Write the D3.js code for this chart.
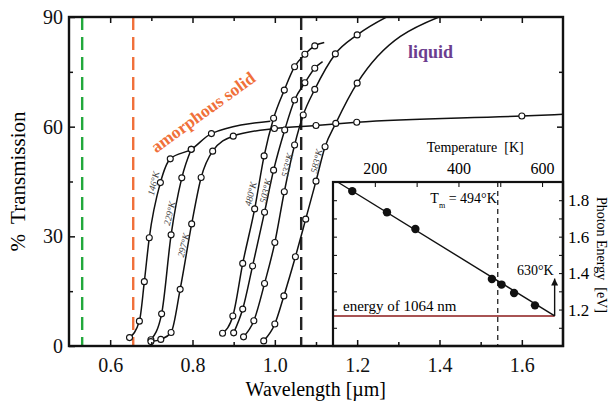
<!DOCTYPE html>
<html>
<head>
<meta charset="utf-8">
<script src="https://cdn.jsdelivr.net/npm/d3@7"></script>
<style>
body{margin:0;background:#fff}
svg{display:block}
svg text{font-family:"Liberation Serif","DejaVu Serif","Times New Roman",serif !important}
</style>
</head>
<body>
<div id="chart"></div>
<script>
// transmission curves: [wavelength (um), % transmission, open circle drawn?]
var t146 = [[0.647,2.3,1],[0.671,6.8,1],[0.683,17.6,1],[0.695,29.6,1],[0.722,44.7,1],[0.746,51.2,1],[0.797,53.8,1],[0.846,58.1,1],[0.989,61.5,0]];
var t229 = [[0.699,1.7,1],[0.725,8.8,1],[0.748,30.4,1],[0.774,46.0,1],[0.797,53.8,1]];
var t297 = [[0.699,1.2,1],[0.723,1.8,1],[0.748,3.7,1],[0.770,15.5,1],[0.798,33.4,1],[0.821,46.1,1],[0.849,53.3,1],[0.899,57.4,1],[0.999,59.5,1],[1.100,60.3,1],[1.199,61.2,1],[1.600,62.9,1],[1.700,63.4,0]];
var t480 = [[0.873,3.5,1],[0.898,8.2,1],[0.922,22.6,1],[0.951,37.5,1],[0.974,52.0,1],[0.997,62.3,1],[1.023,70.0,1],[1.048,76.4,1],[1.073,79.8,1],[1.097,82.1,1],[1.120,83.0,0]];
var t503 = [[0.900,3.6,1],[0.922,10.1,1],[0.946,21.9,1],[0.975,36.6,1],[0.997,48.1,1],[1.024,59.1,1],[1.048,67.3,1],[1.073,72.0,1],[1.097,76.0,1],[1.116,77.8,0]];
var t533 = [[0.924,2.5,1],[0.949,6.9,1],[0.975,17.1,1],[1.000,28.3,1],[1.023,42.2,1],[1.048,55.0,1],[1.069,63.2,1],[1.097,70.2,1],[1.147,79.9,1],[1.200,85.1,1],[1.280,90.5,0]];
var t583 = [[0.973,1.4,1],[1.000,6.0,1],[1.022,13.7,1],[1.050,24.4,1],[1.075,34.7,1],[1.100,45.1,1],[1.122,54.5,1],[1.148,60.9,1],[1.200,71.9,1],[1.410,90.5,0]];

var curves = [t146,t229,t297,t480,t503,t533,t583];
var curveNames = ["146°K","229°K","297°K","480°K","503°K","533°K","583°K"];
var curveLabelAt = [[0.705,44.5],[0.744,36.3],[0.778,27.6],[0.941,41.6],[0.977,42.4],[1.030,49.5],[1.101,50.6]];

// vertical laser lines (um)
var laserLines = [0.532,0.656,1.064];
var laserColors = ["#22a83c","#f0703a","#222"];

// inset: photon energy of the edge vs. temperature
var insetTemp = [146,229,297,480,503,533,583];
var insetEnergy = [1.850,1.734,1.642,1.368,1.337,1.291,1.223];
var fitTemp = [111,630];
var fitEnergy = [1.9,1.165];
var laserEnergy = 1.165;
var meltTemp = 494;
var cutTemp = 630;
var cutArrowTop = 1.37;

var SERIF = "'Liberation Serif','DejaVu Serif',serif";
var W = 611, H = 401;
var margin = {top:17,right:48,bottom:55,left:69};
var w = W - margin.left - margin.right, h = H - margin.top - margin.bottom;

var svg = d3.select("#chart").append("svg").attr("width",W).attr("height",H).attr("font-family",SERIF);
var g = svg.append("g").attr("transform","translate(" + margin.left + "," + margin.top + ")");

var x = d3.scaleLinear().domain([0.5,1.7]).range([0,w]);
var y = d3.scaleLinear().domain([0,90]).range([h,0]);

g.append("clipPath").attr("id","clip").append("rect").attr("width",w).attr("height",h);

// dashed lines
laserLines.forEach(function(v,i){
  g.append("line")
    .attr("x1",x(v)).attr("x2",x(v)).attr("y1",0).attr("y2",h)
    .attr("stroke",laserColors[i]).attr("stroke-width",2.4)
    .attr("stroke-dasharray","13,7");
});

var line = d3.line()
  .x(function(d){return x(d[0]);})
  .y(function(d){return y(d[1]);})
  .curve(d3.curveMonotoneX);

var cg = g.append("g").attr("clip-path","url(#clip)");
curves.forEach(function(c){
  cg.append("path").attr("d",line(c)).attr("fill","none").attr("stroke","#111").attr("stroke-width",1.5);
});
curves.forEach(function(c){
  cg.selectAll(null).data(c.filter(function(d){return d[2];}))
    .enter().append("circle")
    .attr("cx",function(d){return x(d[0]);})
    .attr("cy",function(d){return y(d[1]);})
    .attr("r",3)
    .attr("fill","#fff").attr("stroke","#111").attr("stroke-width",1.1);
});

// curve temperature labels
curveNames.forEach(function(n,i){
  var p = curveLabelAt[i];
  g.append("text")
    .attr("transform","translate(" + x(p[0]) + "," + y(p[1]) + ") rotate(-76)")
    .attr("text-anchor","middle").attr("dy","0.35em")
    .style("font-size","9.5px").style("font-style","italic").attr("fill","#444")
    .text(n);
});

g.append("text")
  .attr("transform","translate(" + x(0.825) + "," + y(64) + ") rotate(-36)")
  .attr("text-anchor","middle").attr("dy","0.35em")
  .style("font-size","17.5px").style("font-weight","bold").attr("fill","#f0703a")
  .text("amorphous solid");

g.append("text")
  .attr("x",x(1.378)).attr("y",y(78.8))
  .attr("text-anchor","middle")
  .style("font-size","18px").style("font-weight","bold").attr("fill","#6b3d8f")
  .text("liquid");

// ---- inset ----
var ix0 = 264, iy0 = 165;
var tx = d3.scaleLinear().domain([100,650]).range([ix0,w]);
var ey = d3.scaleLinear().domain([1.0,1.9]).range([h,iy0]);

var ins = g.append("g");
ins.append("rect").attr("x",ix0).attr("y",iy0).attr("width",w-ix0).attr("height",h-iy0).attr("fill","#fff");

ins.append("line")
  .attr("x1",tx(100)).attr("x2",tx(cutTemp)).attr("y1",ey(laserEnergy)).attr("y2",ey(laserEnergy))
  .attr("stroke","#8b1a1a").attr("stroke-width",1.6);

ins.append("line")
  .attr("x1",tx(meltTemp)).attr("x2",tx(meltTemp)).attr("y1",iy0).attr("y2",h)
  .attr("stroke","#111").attr("stroke-width",1.2).attr("stroke-dasharray","5,4");

var fitLine = d3.line().x(function(d){return tx(d[0]);}).y(function(d){return ey(d[1]);});
ins.append("path").attr("d",fitLine(fitTemp.map(function(t,i){return [t,fitEnergy[i]];})))
  .attr("stroke","#111").attr("stroke-width",1.4).attr("fill","none");

ins.selectAll(null).data(insetTemp).enter().append("circle")
  .attr("cx",function(d){return tx(d);})
  .attr("cy",function(d,i){return ey(insetEnergy[i]);})
  .attr("r",4.2).attr("fill","#111");

svg.append("defs").append("marker").attr("id","arr")
  .attr("viewBox","0 0 10 10").attr("refX",10).attr("refY",5)
  .attr("markerWidth",12).attr("markerHeight",7).attr("markerUnits","userSpaceOnUse")
  .attr("orient","auto")
  .append("path").attr("d","M0,0L10,5L0,10z").attr("fill","#111");
ins.append("line")
  .attr("x1",tx(cutTemp)).attr("x2",tx(cutTemp)).attr("y1",ey(laserEnergy)).attr("y2",ey(cutArrowTop))
  .attr("stroke","#111").attr("stroke-width",1.4).attr("marker-end","url(#arr)");

ins.append("text").attr("x",tx(cutTemp)-1).attr("y",ey(1.39))
  .attr("text-anchor","end").style("font-size","14px").text("630°K");

var tm = ins.append("text").attr("x",tx(meltTemp)-1).attr("y",ey(1.785))
  .attr("text-anchor","end").style("font-size","14px");
tm.append("tspan").text("T");
tm.append("tspan").attr("dy",5).style("font-size","8px").text("m");
tm.append("tspan").attr("dy",-5).text(" = 494°K");

ins.append("text").attr("x",tx(100)+10).attr("y",ey(1.19))
  .style("font-size","15px").text("energy of 1064 nm");

// inset axes
ins.append("g").attr("transform","translate(0," + iy0 + ")")
  .call(d3.axisTop(tx).tickValues([200,300,400,500,600]).tickSize(-5).tickFormat(function(d){return d%200===0 ? d : "";}).tickPadding(8))
  .call(function(a){a.select(".domain").remove();a.attr("font-family",null);a.selectAll("text").style("font-size","16px");});
ins.append("text").attr("x",tx(440)).attr("y",iy0-30).attr("text-anchor","middle")
  .style("font-size","14px").attr("xml:space","preserve").text("Temperature  [K]");

ins.append("g").attr("transform","translate(" + ix0 + ",0)")
  .call(d3.axisLeft(ey).tickValues(d3.range(1.1,1.85,0.1)).tickSize(-4).tickFormat(""))
  .call(function(a){a.select(".domain").remove();});
ins.append("g").attr("transform","translate(" + w + ",0)")
  .call(d3.axisRight(ey).tickValues(d3.range(1.1,1.85,0.1)).tickSize(-4).tickPadding(5)
    .tickFormat(function(d){var r=Math.round(d*10); return r%2===0 ? d3.format(".1f")(d) : "";}))
  .call(function(a){a.select(".domain").remove();a.attr("font-family",null);a.selectAll("text").style("font-size","17px");});
ins.append("text")
  .attr("transform","translate(" + (w+34) + "," + ey(1.5) + ") rotate(90)")
  .attr("text-anchor","middle").style("font-size","14px").attr("xml:space","preserve")
  .text("Photon Energy  [eV]");
ins.append("rect").attr("x",ix0).attr("y",iy0).attr("width",w-ix0).attr("height",h-iy0)
  .attr("fill","none").attr("stroke","#111").attr("stroke-width",2.2);

// ---- main axes ----
function styleAxis(a){
  a.select(".domain").remove();
  a.attr("font-family",null);
  a.selectAll("line").attr("stroke","#111").attr("stroke-width",1.5);
  a.selectAll("text").style("font-size","20px").attr("fill","#111");
}
var major = [0.6,0.8,1.0,1.2,1.4,1.6], minor = [0.7,0.9,1.1,1.3,1.5];
g.append("g").attr("transform","translate(0," + h + ")")
  .call(d3.axisBottom(x).tickValues(major).tickSize(-6).tickPadding(12).tickFormat(d3.format(".1f"))).call(styleAxis);
g.append("g").attr("transform","translate(0," + h + ")")
  .call(d3.axisBottom(x).tickValues(minor).tickSize(-4).tickFormat("")).call(styleAxis);
g.append("g").call(d3.axisTop(x).tickValues(major).tickSize(-6).tickFormat("")).call(styleAxis);
g.append("g").call(d3.axisTop(x).tickValues(minor).tickSize(-4).tickFormat("")).call(styleAxis);
g.append("g").call(d3.axisLeft(y).tickValues([0,30,60,90]).tickSize(-6).tickPadding(6)).call(styleAxis);
g.append("g").call(d3.axisLeft(y).tickValues([15,45,75]).tickSize(-4).tickFormat("")).call(styleAxis);
g.append("g").attr("transform","translate(" + w + ",0)")
  .call(d3.axisRight(y).tickValues([60]).tickSize(-6).tickFormat("")).call(styleAxis);
g.append("g").attr("transform","translate(" + w + ",0)")
  .call(d3.axisRight(y).tickValues([75]).tickSize(-4).tickFormat("")).call(styleAxis);

g.append("rect").attr("width",w).attr("height",h).attr("fill","none").attr("stroke","#111").attr("stroke-width",2.4);

svg.append("text").attr("x",margin.left + x(1.0) + 41).attr("y",H-5).attr("text-anchor","middle")
  .style("font-size","20px").text("Wavelength [µm]");
svg.append("text")
  .attr("transform","translate(25," + (margin.top + y(45) + 0) + ") rotate(-90)")
  .attr("text-anchor","middle").style("font-size","21px").attr("xml:space","preserve")
  .text("%  Transmission");
</script>
</body>
</html>
